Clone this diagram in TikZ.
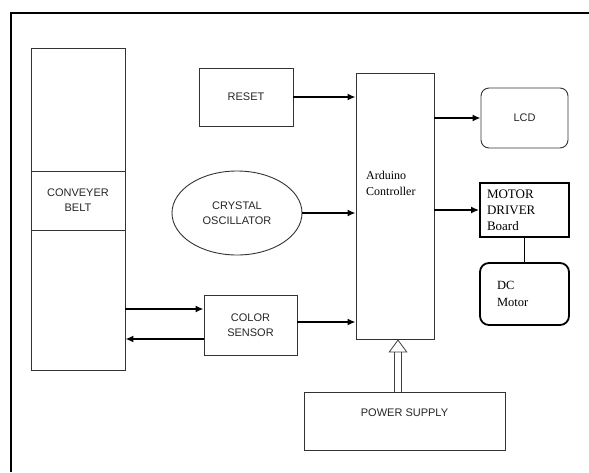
\documentclass[tikz,border=0pt]{standalone}
\usepackage{fontspec}
\setmainfont{Liberation Serif}
\setsansfont{Liberation Sans}
\usetikzlibrary{arrows.meta,shapes.geometric}

\begin{document}
\begin{tikzpicture}[
x=1pt,y=-1pt,
box/.style={rectangle,draw=black!80,line width=0.9pt,inner sep=2pt,align=center,
  text=black!85,font=\sffamily\fontsize{11}{15}\selectfont},
round box/.style={box,rounded corners=8pt},
bold box/.style={box,draw=black,line width=1.8pt,align=left,text=black,
  font=\rmfamily\fontsize{13}{16}\selectfont},
serif/.style={align=left,inner sep=0pt,font=\rmfamily\fontsize{12}{16}\selectfont},
link/.style={black,line width=1.6pt,-{Latex[length=8pt,width=7pt]}},
supply/.style={draw=black!75,line width=0.8pt,double=white,double distance=6pt,
  -{Triangle[open,length=13pt,width=19pt]}}
]
\useasboundingbox (0,0) rectangle (589,472);
\draw[line width=2.5pt] (11,472) -- (11,13) -- (589,13);

\node[box,minimum width=94pt,minimum height=322pt] (belt) at (78,209) {};
\node[box,minimum width=94pt,minimum height=59pt] (beltlbl) at (78,200.5) {CONVEYER\\BELT};
\node[box,minimum width=94pt,minimum height=58pt] (reset) at (246,97) {RESET};
\node[box,ellipse,minimum width=130pt,minimum height=84pt] (osc) at (237,213) {CRYSTAL\\OSCILLATOR};
\node[box,minimum width=93pt,minimum height=60pt] (sensor) at (250.5,325) {COLOR\\SENSOR};
\node[box,minimum width=78pt,minimum height=266pt] (ard) at (395,206) {};
\node[serif,anchor=west] (ardlbl) at (366,183) {Arduino\\Controller};
\node[round box,minimum width=87pt,minimum height=60pt] (lcd) at (524.5,118) {LCD};
\node[bold box,minimum width=89pt,minimum height=54pt,text width=75pt,inner xsep=7pt] (drv) at (524.5,210) {MOTOR\\DRIVER\\Board};
\node[bold box,rounded corners=9pt,minimum width=89pt,minimum height=62pt,text width=55pt,inner xsep=17pt,
  font=\rmfamily\fontsize{12.5}{17}\selectfont] (motor) at (524.5,294) {DC\\Motor};
\node[box,minimum width=201pt,minimum height=58pt,text depth=16pt] (power) at (404.5,421) {POWER SUPPLY};

\draw[link] (reset) -- (reset -| ard.west);
\draw[link] (osc) -- (osc -| ard.west);
\draw[link] ([yshift=3pt]sensor.east) -- ([yshift=3pt]sensor.east -| ard.west);
\draw[link] (ard.east |- lcd) -- (lcd);
\draw[link] (ard.east |- drv) -- (drv);
\draw[link] ([yshift=16pt]sensor.west -| belt.east) -- ([yshift=16pt]sensor.west);
\draw[link] ([yshift=-14pt]sensor.west) -- ([yshift=-14pt]sensor.west -| belt.east);
\draw[line width=1.6pt] (drv) -- (motor);
\draw[supply] ([xshift=3pt]ard.south |- power.north) -- ([xshift=3pt]ard.south);
\end{tikzpicture}
\end{document}
